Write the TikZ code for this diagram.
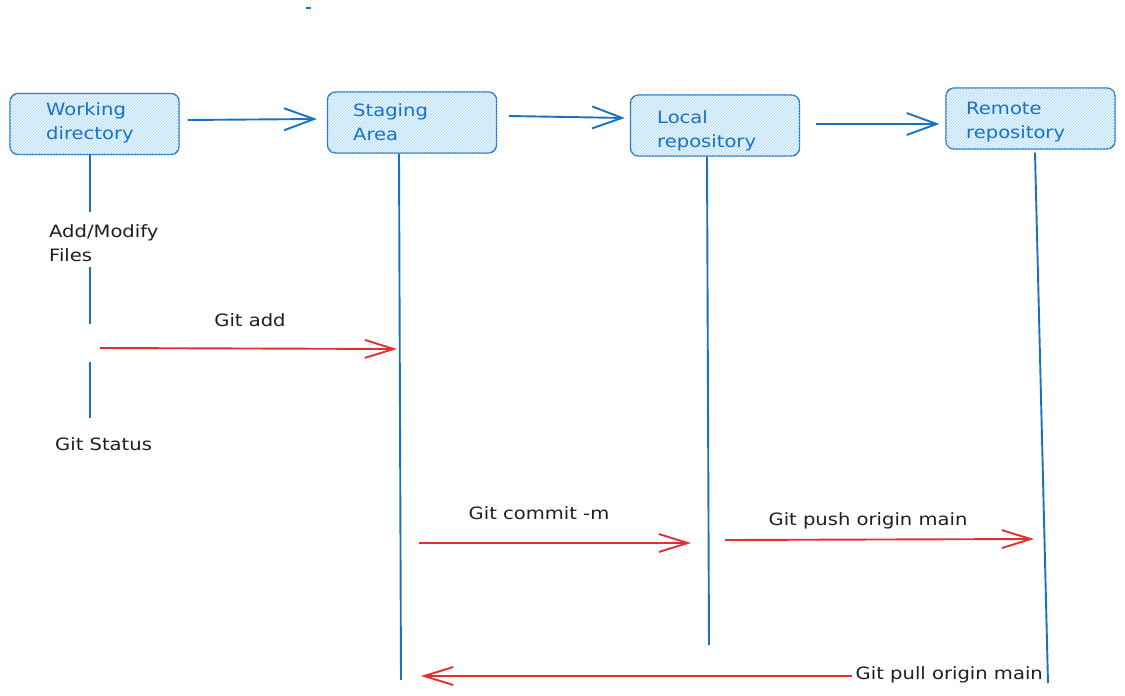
\documentclass[tikz,border=0pt]{standalone}
\usepackage{fontspec}
\setmainfont{DejaVu Sans}[FakeStretch=1.15]
\usetikzlibrary{arrows.meta,patterns}
\definecolor{exblue}{HTML}{1971C2}
\definecolor{exfill}{HTML}{A5D8FF}
\definecolor{exred}{HTML}{E03131}
\definecolor{exink}{HTML}{1E1E1E}
\begin{document}
\begin{tikzpicture}[x=1pt,y=-1pt,
  box/.style={draw=exblue, line width=1.3pt, rounded corners=8pt, fill=exfill!22,
    postaction={pattern=north east lines, pattern color=exfill},
    minimum width=169pt, minimum height=61pt, inner sep=0pt},
  boxtext/.style={text=exblue, font=\fontsize{17}{24}\selectfont, align=left, anchor=west, inner sep=0pt},
  lbl/.style={text=exink, font=\fontsize{17}{24}\selectfont, align=left, inner sep=0pt},
  flow/.style={draw=exblue, line width=1.9pt, -{Straight Barb[length=30pt,width=22pt,line width=1.9pt]}},
  cmd/.style={draw=exred, line width=1.9pt, -{Straight Barb[length=29pt,width=18pt,line width=1.9pt]}},
  life/.style={draw=exblue, line width=1.9pt}]
\useasboundingbox (0,0) rectangle (1125,696);

% boxes
\node[box] (wd) at (94.5,124) {};
\node[box] (sa) at (412,122.5) {};
\node[box] (lr) at (715,125.5) {};
\node[box] (rr) at (1030.5,118.5) {};
\node[boxtext] (wdt) at (46,123) {Working\\directory};
\node[boxtext] (sat) at (353,122) {Staging\\Area};
\node[boxtext] (lrt) at (657,131) {Local\\repository};
\node[boxtext] (rrt) at (966,122) {Remote\\repository};

% flow arrows between boxes
\draw[flow] ([xshift=8pt,yshift=4pt]wd.east) -- ([xshift=-10pt,yshift=3.5pt]sa.west);
\draw[flow] ([xshift=12pt,yshift=6.5pt]sa.east) -- ([xshift=-5pt,yshift=7.5pt]lr.west);
\draw[flow] ([xshift=16pt,yshift=1.5pt]lr.east) -- ([xshift=-6pt,yshift=-5.5pt]rr.west);

% lifelines
\coordinate (wdA) at (90,212);
\coordinate (wdB) at (90,267);
\coordinate (wdC) at (90,324);
\coordinate (wdD) at (90,362);
\coordinate (wdE) at (90,418);
\coordinate (saEnd) at (401,680);
\coordinate (lrEnd) at (709,645);
\coordinate (rrEnd) at (1048,683);
\draw[life] ([xshift=-4.5pt]wd.south) -- (wdA);
\draw[life] (wdB) -- (wdC);
\draw[life] (wdD) -- (wdE);
\draw[life] ([xshift=-13pt]sa.south) -- (saEnd);
\draw[life] ([xshift=-8pt]lr.south) -- (lrEnd);
\draw[life] ([xshift=4.5pt,yshift=-3pt]rr.south) -- (rrEnd);

% labels
\node[lbl, anchor=west] (amf) at (49,243) {Add/Modify\\Files};
\node[lbl] (gadd) at (250,320) {Git add};
\node[lbl, anchor=west] (gst) at (55,444) {Git Status};
\node[lbl] (gcm) at (539,513) {Git commit -m};
\node[lbl] (gpush) at (868,521) {Git push origin main};
\node[lbl, anchor=east] (gpull) at (1043,675) {Git pull origin main};

% command arrows
\coordinate (addS) at (100,348);
\coordinate (addE) at (397,349);
\coordinate (cmS) at (419,543);
\coordinate (cmE) at (691,543);
\coordinate (puS) at (725,540);
\coordinate (puE) at (1034,539);
\coordinate (plE) at (421,676);
\draw[cmd] (addS) -- (addE);
\draw[cmd] (cmS) -- (cmE);
\draw[cmd] (puS) -- (puE);
\draw[cmd] ([xshift=-4pt,yshift=-1pt]gpull.west) -- (plE);

% stray mark at the top
\coordinate (dA) at (306,8);
\coordinate (dB) at (311,8);
\draw[exblue, line width=1.4pt] (dA) -- (dB);
\end{tikzpicture}
\end{document}
